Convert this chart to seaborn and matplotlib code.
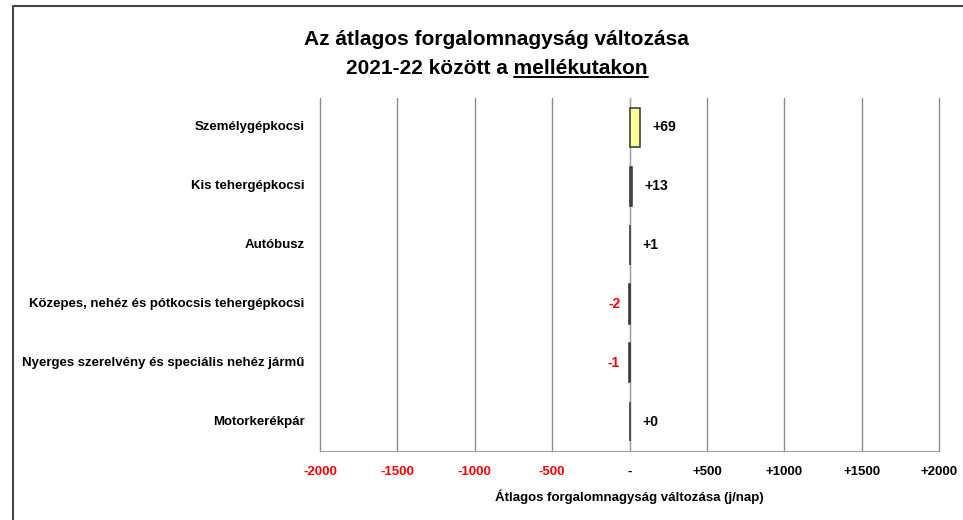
import numpy as np
import pandas as pd
import seaborn as sns
import matplotlib.pyplot as plt
from matplotlib.lines import Line2D

categories = ['Személygépkocsi', 'Kis tehergépkocsi', 'Autóbusz',
              'Közepes, nehéz és pótkocsis tehergépkocsi',
              'Nyerges szerelvény és speciális nehéz jármű', 'Motorkerékpár']
changes = [69, 13, 1, -2, -1, 0]
bar_colors = ['#FFFF99', '#7F7F60', '#595959', '#595959', '#595959', '#595959']
xticks = [-2000, -1500, -1000, -500, 0, 500, 1000, 1500, 2000]

df = pd.DataFrame({'kategoria': categories, 'valtozas': changes})

sns.set_style('white')
plt.rcParams['font.family'] = ['Liberation Sans', 'DejaVu Sans']
plt.rcParams['text.color'] = 'black'
plt.rcParams['axes.labelcolor'] = 'black'
FS = 9.5

fig = plt.figure(figsize=(9.63, 5.2), dpi=100)
ax = fig.add_axes([0.3323, 0.1327, 0.6428, 0.6788])

sns.barplot(data=df, y='kategoria', x='valtozas', hue='kategoria',
            palette=bar_colors, saturation=1, orient='h', width=0.67, legend=False,
            edgecolor='#333333', linewidth=1.1, zorder=3, ax=ax)

ax.set_xlim(-2000, 2000)
ax.set_ylim(len(categories) - 0.5, -0.5)
ax.set_xticks(xticks)
ax.set_xticklabels([('+%d' % t if t > 0 else ('-' if t == 0 else str(t))) for t in xticks],
                   fontsize=FS, fontweight='bold')
for lab, t in zip(ax.get_xticklabels(), xticks):
    lab.set_color('red' if t < 0 else 'black')

ax.grid(axis='x', color='#8c8c8c', linewidth=1.0)
for gl in ax.get_xgridlines():
    gl.set_clip_on(False)
ax.set_axisbelow(True)
for s in ['top', 'right']:
    ax.spines[s].set_visible(False)
ax.spines['bottom'].set_color('#a0a0a0')
ax.spines['left'].set_position(('data', 0))
ax.spines['left'].set_color('#a0a0a0')
ax.spines['left'].set_zorder(2)
ax.set_yticks(np.arange(len(categories)))
ax.set_yticklabels([])
ax.tick_params(axis='y', which='major', length=0)
ax.set_yticks(np.arange(len(categories) + 1) - 0.5, minor=True)
ax.tick_params(axis='y', which='minor', length=5, color='#a0a0a0', direction='out')
ax.tick_params(axis='x', length=5, color='#a0a0a0', direction='out', pad=6)
ax.set_ylabel('')
ax.set_xlabel('Átlagos forgalomnagyság változása (j/nap)', fontsize=FS,
              fontweight='bold', labelpad=8)

for i, name in enumerate(categories):
    ax.text(-0.025, i, name, transform=ax.get_yaxis_transform(),
            ha='right', va='center', fontsize=FS, fontweight='bold')

for i, v in enumerate(changes):
    if v < 0:
        ax.text(-60, i, str(v), ha='right', va='center', fontsize=10,
                fontweight='bold', color='red')
    else:
        ax.text(v + 80, i, '+%d' % v, ha='left', va='center', fontsize=10,
                fontweight='bold', color='black')

# title, second line with underlined last word
TS = 15
fig.text(0.516, 0.924, 'Az átlagos forgalomnagyság változása', ha='center',
         va='center', fontsize=TS, fontweight='bold')
line2 = fig.text(0.516, 0.869, '2021-22 között a mellékutakon', ha='center',
                 va='center', fontsize=TS, fontweight='bold')
fig.canvas.draw()
r = fig.canvas.get_renderer()
bb = line2.get_window_extent(r)
tmp = fig.text(0, 0, 'mellékutakon', fontsize=TS, fontweight='bold')
w = tmp.get_window_extent(r).width
tmp.remove()
W, H = fig.bbox.width, fig.bbox.height
y_ul = (bb.y0 + 1) / H
fig.add_artist(Line2D([(bb.x1 - w) / W, bb.x1 / W], [y_ul, y_ul],
                      color='black', linewidth=1.4))

# chart frame (cut off at right and bottom like the reference)
fig.add_artist(Line2D([13 / W, 13 / W, 1.0], [0.0, 1 - 6 / H, 1 - 6 / H],
                      color='#444444', linewidth=1.5))

plt.savefig('out.png', dpi=100)
plt.close()
